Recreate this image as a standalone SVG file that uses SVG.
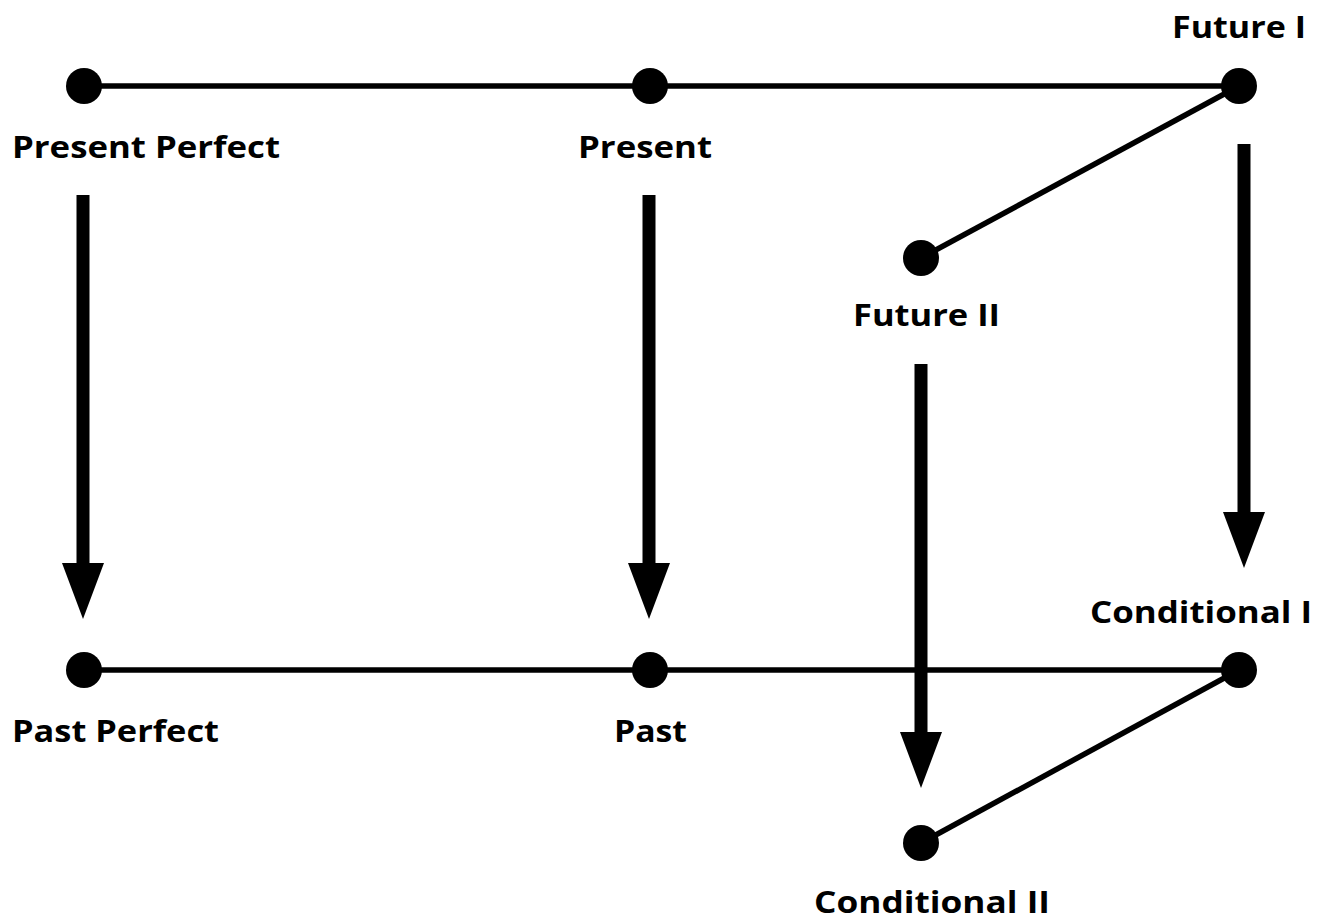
<svg xmlns="http://www.w3.org/2000/svg" width="1319" height="922" viewBox="0 0 1319 922">
<style>
.ln{stroke:#000;stroke-width:5.5;fill:none}
.sh{stroke:#000;stroke-width:13;fill:none}
.hd{fill:#000}
.dot{fill:#000}
.lb{font-family:"Open Sans","Noto Sans","Liberation Sans",sans-serif;font-weight:bold;font-size:31px;fill:#000}
</style>
<rect width="1319" height="922" fill="#fff"/>
<g id="connectors">
<line class="ln" x1="84" y1="86" x2="1239" y2="86"/>
<line class="ln" x1="1239" y1="86" x2="921" y2="258"/>
<line class="ln" x1="84" y1="670" x2="1239" y2="670"/>
<line class="ln" x1="1239" y1="670" x2="921" y2="843"/>
<line class="sh" x1="83" y1="195" x2="83" y2="566"/>
<polygon class="hd" points="62,563 104,563 83,619"/>
<line class="sh" x1="649" y1="195" x2="649" y2="566"/>
<polygon class="hd" points="628,563 670,563 649,619"/>
<line class="sh" x1="1244" y1="144" x2="1244" y2="515"/>
<polygon class="hd" points="1223,512 1265,512 1244,568"/>
<line class="sh" x1="921" y1="364" x2="921" y2="735"/>
<polygon class="hd" points="900,732 942,732 921,788"/>
</g>
<g id="present-perfect"><circle class="dot" cx="84" cy="86" r="18"/><text class="lb" x="12" y="158" textLength="268" lengthAdjust="spacingAndGlyphs">Present Perfect</text></g>
<g id="present"><circle class="dot" cx="650" cy="86" r="18"/><text class="lb" x="578" y="158" textLength="134" lengthAdjust="spacingAndGlyphs">Present</text></g>
<g id="future-i"><circle class="dot" cx="1239" cy="86" r="18"/><text class="lb" x="1172" y="38" textLength="134" lengthAdjust="spacingAndGlyphs">Future I</text></g>
<g id="future-ii"><circle class="dot" cx="921" cy="258" r="18"/><text class="lb" x="853" y="326" textLength="147" lengthAdjust="spacingAndGlyphs">Future II</text></g>
<g id="past-perfect"><circle class="dot" cx="84" cy="670" r="18"/><text class="lb" x="12" y="742" textLength="207" lengthAdjust="spacingAndGlyphs">Past Perfect</text></g>
<g id="past"><circle class="dot" cx="650" cy="670" r="18"/><text class="lb" x="614" y="742" textLength="73" lengthAdjust="spacingAndGlyphs">Past</text></g>
<g id="conditional-i"><circle class="dot" cx="1239" cy="670" r="18"/><text class="lb" x="1090" y="623" textLength="222" lengthAdjust="spacingAndGlyphs">Conditional I</text></g>
<g id="conditional-ii"><circle class="dot" cx="921" cy="843" r="18"/><text class="lb" x="814" y="913" textLength="236" lengthAdjust="spacingAndGlyphs">Conditional II</text></g>
</svg>
